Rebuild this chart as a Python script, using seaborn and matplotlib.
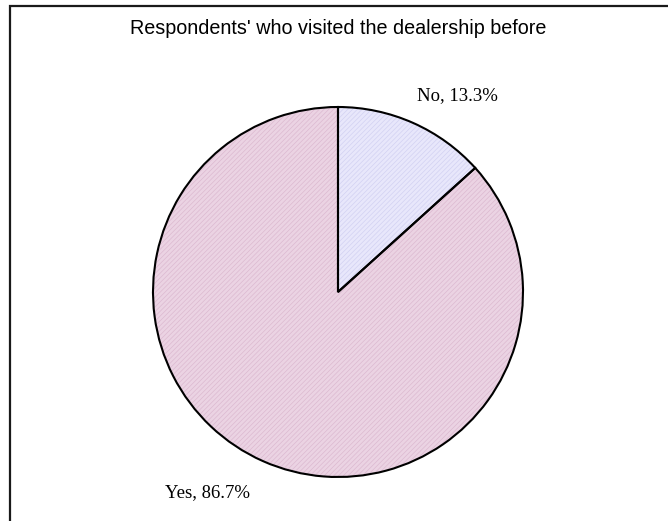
import matplotlib
matplotlib.use("Agg")
import matplotlib.pyplot as plt
from matplotlib.patches import Rectangle
import seaborn as sns

# Survey answers
categories = ["No", "Yes"]
shares = [13.3, 86.7]
label_texts = ["No, 13.3%", "Yes, 86.7%"]
title = "Respondents' who visited the dealership before"

sns.set_theme(style="white")
plt.rcParams["hatch.linewidth"] = 0.5

W, H = 668, 521
fig = plt.figure(figsize=(W / 100, H / 100), dpi=100)
fig.patch.set_facecolor("white")

# chart-area frame (runs off the right and bottom edges)
fig.add_artist(Rectangle((10 / W, -0.1), 1.2, (H - 6) / H + 0.1,
                         transform=fig.transFigure, fill=False,
                         edgecolor="#1a1a1a", linewidth=1.6))

cx, cy, r = 338, 292, 185
ax = fig.add_axes([(cx - r) / W, (H - cy - r) / H, 2 * r / W, 2 * r / H])
ax.axis("off")

fill_colors = ["#e8e7fb", "#ebd3e3"]
hatch_colors = ["#d2d1f2", "#dcb9d0"]

# fine hatched fill
wedges, _ = ax.pie(shares, colors=fill_colors, startangle=90, counterclock=False,
                   radius=1, wedgeprops=dict(linewidth=0))
for w, hc in zip(wedges, hatch_colors):
    w.set_hatch("///////")
    w.set_edgecolor(hc)

# black outlines on top
ax.pie(shares, colors=["none", "none"], startangle=90, counterclock=False,
       radius=1, wedgeprops=dict(linewidth=1.5, edgecolor="black"))

ax.set_xlim(-1, 1)
ax.set_ylim(-1, 1)
ax.set_aspect("equal")

serif = ["Liberation Serif", "DejaVu Serif"]
ax.text(0.427, 1.06, label_texts[0], ha="left", va="center", fontsize=13.5,
        family=serif, color="black", clip_on=False)
ax.text(-0.708, -1.086, label_texts[1], ha="center", va="center", fontsize=13.5,
        family=serif, color="black", clip_on=False)

fig.text(cx / W, 1 - 29 / H, title, ha="center", va="center", fontsize=14.2,
         family=["Liberation Sans", "DejaVu Sans"], color="black")

fig.savefig("out.png", dpi=100, facecolor="white")
